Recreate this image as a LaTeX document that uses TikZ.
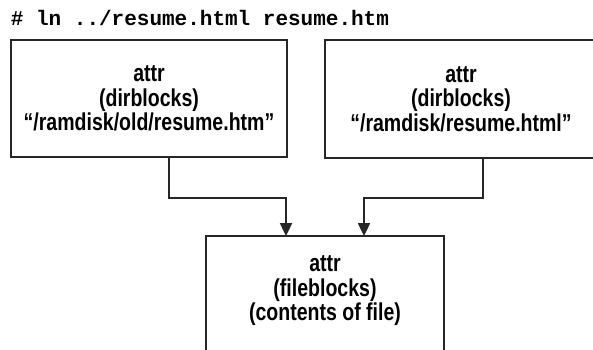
\documentclass[tikz,border=0pt]{standalone}
\usepackage{fontspec}
\setmainfont{Liberation Sans}
\setmonofont{Liberation Mono}
\newfontfamily\narrowsans[FakeStretch=0.8,Ligatures=TeX]{Liberation Sans}
\usetikzlibrary{arrows.meta,positioning}

\begin{document}
\begin{tikzpicture}[x=1pt,y=-1pt,>={Triangle[width=12pt,length=13pt]},line width=1.8pt]
                \tikzstyle{attrbox}=[draw=black!85,rectangle,align=center,inner sep=0pt,font=\narrowsans\fontsize{24.4}{24.5}\selectfont\bfseries]
                \tikzstyle{cmd}=[anchor=base west,inner sep=0pt,font=\fontsize{21}{24}\selectfont\ttfamily\bfseries]
                \useasboundingbox (0,0) rectangle (593,349);
                \clip (0,0) rectangle (593,349);

                \node[cmd] at (10,25) (cmdline) {\# ln ../resume.html resume.htm};

                \node[attrbox,minimum width=276pt,minimum height=117pt] at (149,98.5) (olddir) {attr\\(dirblocks)\\“/ramdisk/old/resume.htm”};
                \node[attrbox,minimum width=272pt,minimum height=118pt] at (461,99) (newdir) {attr\\(dirblocks)\\“/ramdisk/resume.html”};
                \node[attrbox,draw=none,minimum width=236pt,minimum height=108pt] at (325,291) (fileattr) {attr\\(fileblocks)\\(contents of file)};
                \draw[black!85] ([yshift=-10pt]fileattr.south west) |- (fileattr.north) -| ([yshift=-10pt]fileattr.south east);

                \draw[->,black!85] ([xshift=20pt]olddir.south) -- ++(0,40) -| ([xshift=-39pt]fileattr.north);
                \draw[->,black!85] ([xshift=22pt]newdir.south) -- ++(0,39) -| ([xshift=39pt]fileattr.north);
\end{tikzpicture}
\end{document}
